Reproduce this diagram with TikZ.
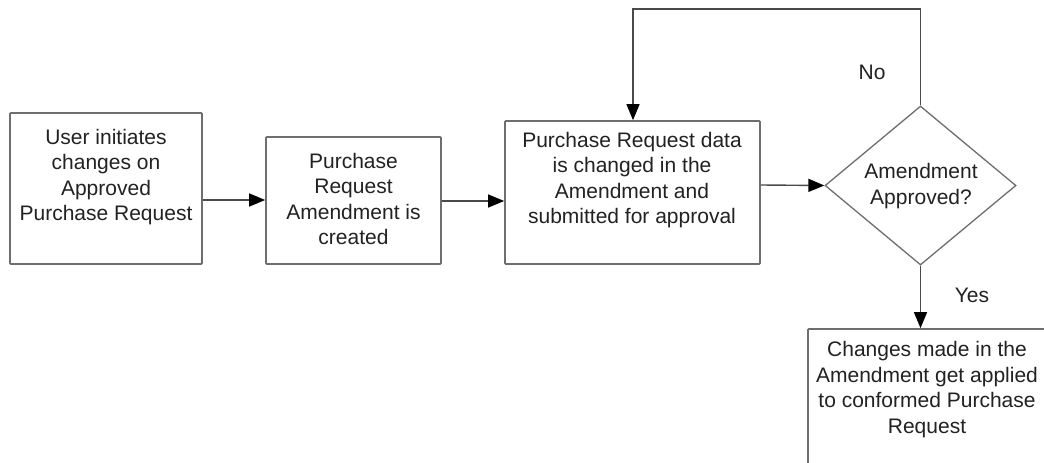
\documentclass[tikz,border=0pt]{standalone}
\usepackage{fontspec}
\setmainfont{Liberation Sans}
\usetikzlibrary{arrows.meta,shapes.geometric}
\definecolor{boxline}{HTML}{6E6E6E}
\definecolor{conline}{HTML}{4A4A4A}
\definecolor{txt}{HTML}{222222}
\tikzset{
  stepbox/.style={draw=boxline, line width=1.7pt, rectangle, rounded corners=0.8pt, inner sep=0pt, fill=white},
  decbox/.style={draw=boxline, line width=1.3pt, diamond, inner sep=0pt, fill=white},
  lbl/.style={font=\fontsize{21}{25.5}\selectfont, text=txt, align=center, inner sep=0pt},
  conn/.style={draw=conline, line width=1.4pt, -{Triangle[length=16pt,width=13pt,color=black]}},
  plainconn/.style={draw=conline, line width=1.4pt}
}
\begin{document}
\begin{tikzpicture}[x=1pt,y=-1pt]
\useasboundingbox (0,0) rectangle (1044,463);
\clip (0,0) rectangle (1044,463);
\fill[white] (0,0) rectangle (1044,463);
% boxes
\node[stepbox, minimum width=192, minimum height=151] (b1) at (106,188.5) {};
\node[stepbox, minimum width=175, minimum height=127] (b2) at (353.5,200.5) {};
\node[stepbox, minimum width=255, minimum height=143] (b3) at (632.5,192.5) {};
\node[decbox, minimum width=191, minimum height=159] (d) at (920.5,185.5) {};
\node[stepbox, minimum width=240, minimum height=160] (b4) at (928,409) {};
% texts
\node[lbl] (t1) at (106,177) {User initiates\\changes on\\Approved\\Purchase Request};
\node[lbl] (t2) at (353.5,199) {Purchase\\Request\\Amendment is\\created};
\node[lbl] (t3) at (632,180) {Purchase Request data\\is changed in the\\Amendment and\\submitted for approval};
\node[lbl] (td) at (921,186) {Amendment\\Approved?};
\node[lbl] (t4) at (927,389.5) {Changes made in the\\Amendment get applied\\to conformed Purchase\\Request};
\node[lbl] (no) at (872,72) {No};
\node[lbl] (yes) at (972,295) {Yes};
% connectors
\draw[conn] (b1.east |- 0,200) -- (b2.west |- 0,200);
\draw[conn] (b2.east |- 0,201) -- (b3.west |- 0,201);
\draw[conn] (b3.east |- 0,185) -- (d.west);
\coordinate (c1) at (920.5,9);
\coordinate (c2) at (633,9);
\draw[conn] (d.north) -- (c1) -- (c2) -- (b3.north -| c2);
\draw[conn] (d.south) -- (b4.north -| d.south);
\end{tikzpicture}
\end{document}
